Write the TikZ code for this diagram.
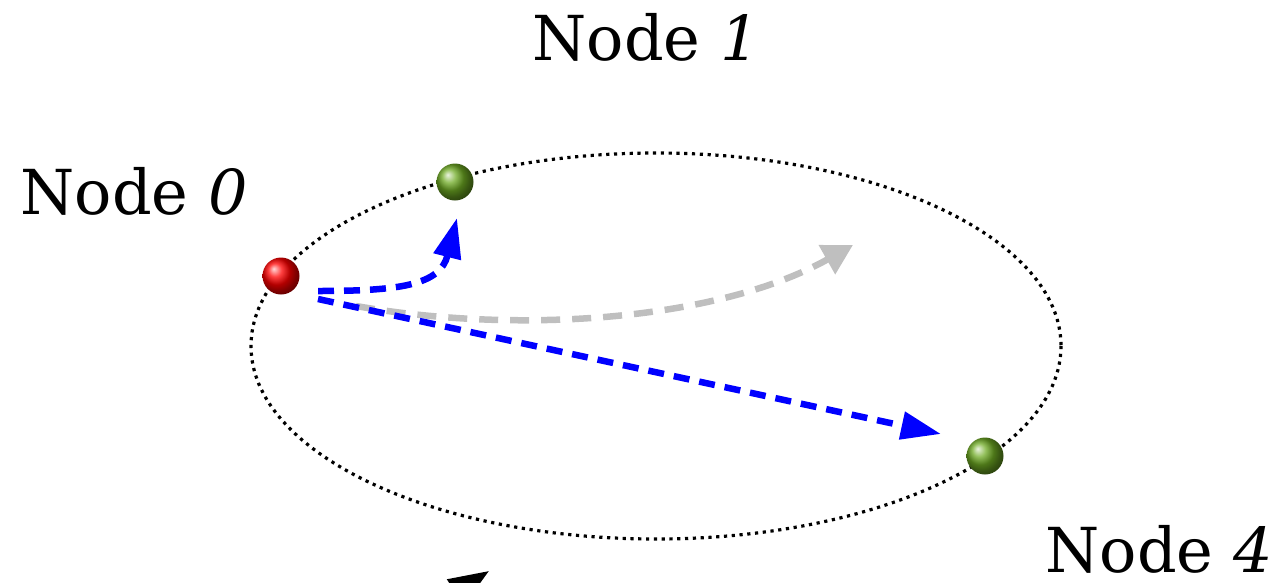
\documentclass[tikz,border=0pt]{standalone}
\usepackage{fontspec}
\setmainfont{DejaVu Serif}
\usetikzlibrary{arrows.meta}
\definecolor{ballgreen}{RGB}{110,170,35}
\begin{document}
\begin{tikzpicture}[x=1pt,y=-1pt,
  ball/.style={circle,minimum size=37pt,inner sep=0pt,shading=ball},
  lbl/.style={font=\fontsize{62}{70}\selectfont,inner sep=0pt,anchor=base,text depth=0pt},
  bluearrow/.style={blue,line width=6.5pt,dash pattern=on 16pt off 10pt,-{Triangle[length=40pt,width=27pt]}},
  grayarrow/.style={black!25,line width=6.5pt,dash pattern=on 19pt off 12pt,-{Triangle[length=30pt,width=32pt]}},
  orbit/.style={black,line width=3.2pt,dash pattern=on 3.2pt off 4.6pt}]
\clip (0,0) rectangle (1285,582);
\useasboundingbox (0,0) rectangle (1285,582);
\draw[orbit] (656,346) ellipse [x radius=405, y radius=193];
\node[ball,ball color=red] (n0) at (281,276) {};
\node[ball,ball color=ballgreen] (n1) at (455,182) {};
\node[ball,ball color=ballgreen] (n4) at (985,456) {};
\node[lbl] (l0) at (134,214) {Node \textit{0}};
\node[lbl] (l1) at (646,60) {Node \textit{1}};
\node[lbl] (l4) at (1159,572) {Node \textit{4}};
\coordinate (s1) at (318,291);
\coordinate (e1) at (457,218);
\coordinate (s2) at (318,299);
\coordinate (e2) at (941,434);
\coordinate (s3) at (356,306);
\coordinate (e3) at (853,245);
\coordinate (s4) at (420,615);
\coordinate (e4) at (489,571);
\draw[grayarrow] (s3) .. controls (520,335) and (720,320) .. (e3);
\draw[bluearrow] (s1) .. controls (400,291) and (440,285) .. (e1);
\draw[bluearrow] (s2) -- (e2);
\draw[black,line width=5pt,-{Triangle[length=40pt,width=30pt]}] (s4) -- (e4);
\end{tikzpicture}
\end{document}
